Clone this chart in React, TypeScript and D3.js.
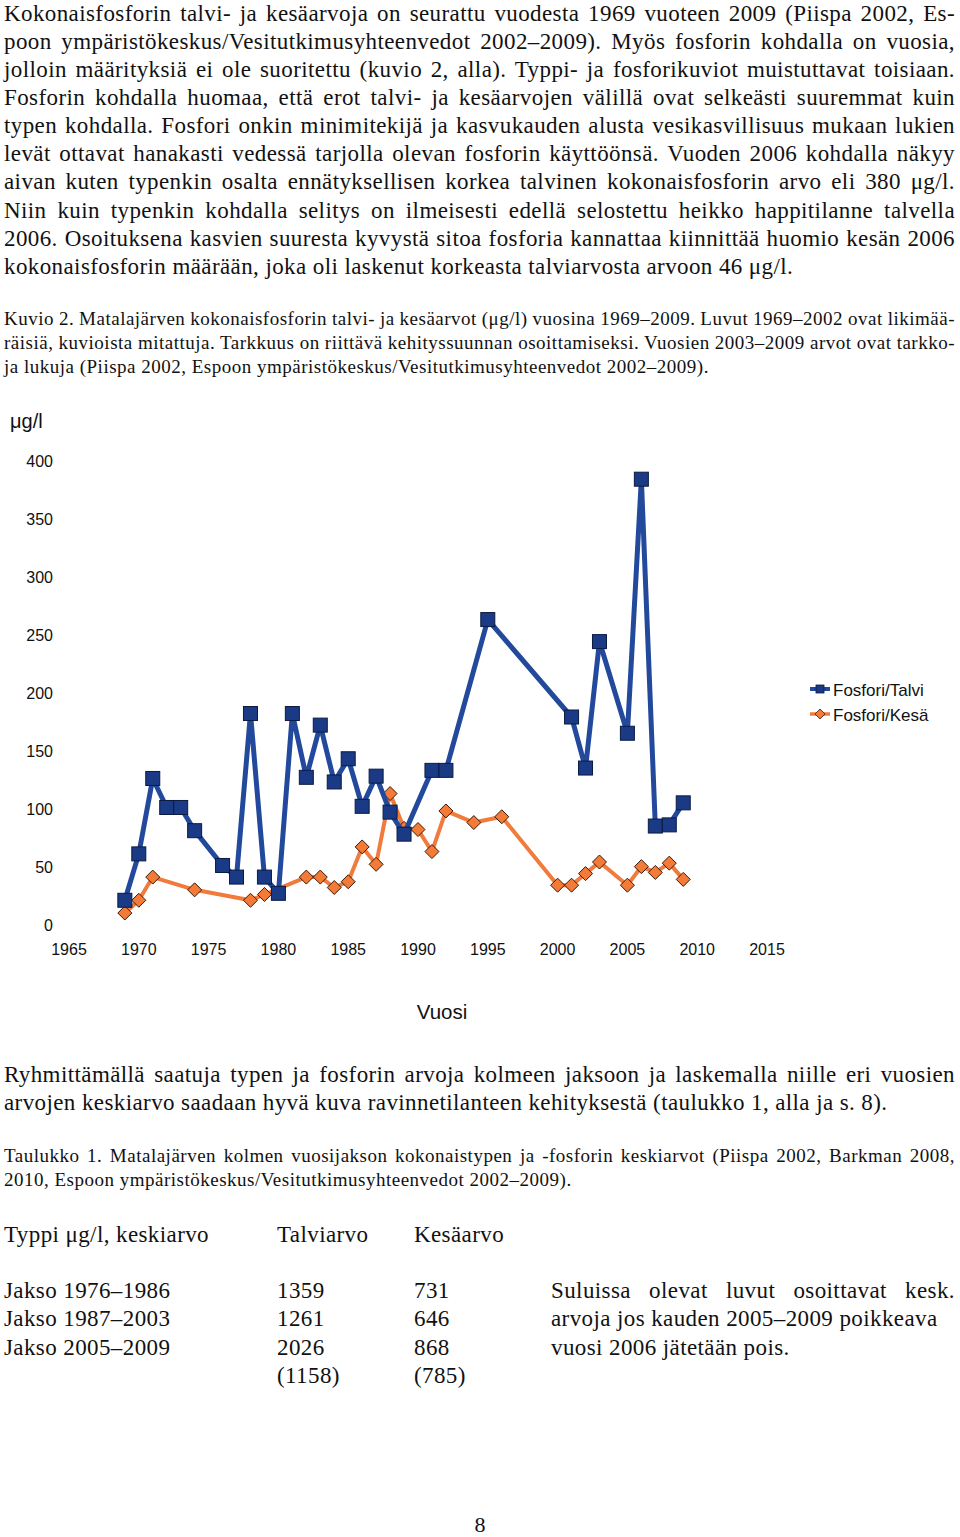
import React, { useEffect, useRef } from "react";
import * as d3 from "d3";

// ---------- Data ----------
const talviYears = [1969,1970,1971,1972,1973,1974,1976,1977,1978,1979,1980,1981,1982,1983,1984,1985,1986,1987,1988,1989,1991,1992,1995,2001,2002,2003,2005,2006,2007,2008,2009];
const talviValues = [17,57,122,97,97,77,47,37,178,37,23,178,123,168,119,139,98,124,93,74,129,129,259,175,131,240,161,380,81,82,101];

const kesaYears = [1969,1970,1971,1974,1978,1979,1982,1983,1984,1985,1986,1987,1988,1989,1990,1991,1992,1994,1996,2000,2001,2002,2003,2005,2006,2007,2008,2009];
const kesaValues = [6,17,37,26,17,22,37,37,28,33,63,48,109,79,78,59,94,84,89,30,30,40,50,30,46,41,49,35];

const yTicks = [0,50,100,150,200,250,300,350,400];
const xTicks = [1965,1970,1975,1980,1985,1990,1995,2000,2005,2010,2015];
const seriesNames = ["Fosfori/Talvi", "Fosfori/Kesä"];

const para1 = [
  "Kokonaisfosforin talvi- ja kesäarvoja on seurattu vuodesta 1969 vuoteen 2009 (Piispa 2002, Es-",
  "poon ympäristökeskus/Vesitutkimusyhteenvedot 2002–2009). Myös fosforin kohdalla on vuosia,",
  "jolloin määrityksiä ei ole suoritettu (kuvio 2, alla). Typpi- ja fosforikuviot muistuttavat toisiaan.",
  "Fosforin kohdalla huomaa, että erot talvi- ja kesäarvojen välillä ovat selkeästi suuremmat kuin",
  "typen kohdalla. Fosfori onkin minimitekijä ja kasvukauden alusta vesikasvillisuus mukaan lukien",
  "levät ottavat hanakasti vedessä tarjolla olevan fosforin käyttöönsä. Vuoden 2006 kohdalla näkyy",
  "aivan kuten typenkin osalta ennätyksellisen korkea talvinen kokonaisfosforin arvo eli 380 μg/l.",
  "Niin kuin typenkin kohdalla selitys on ilmeisesti edellä selostettu heikko happitilanne talvella",
  "2006. Osoituksena kasvien suuresta kyvystä sitoa fosforia kannattaa kiinnittää huomio kesän 2006",
  "kokonaisfosforin määrään, joka oli laskenut korkeasta talviarvosta arvoon 46 μg/l.",
];
const caption1 = [
  "Kuvio 2. Matalajärven kokonaisfosforin talvi- ja kesäarvot (μg/l) vuosina 1969–2009. Luvut 1969–2002 ovat likimää-",
  "räisiä, kuvioista mitattuja. Tarkkuus on riittävä kehityssuunnan osoittamiseksi. Vuosien 2003–2009 arvot ovat tarkko-",
  "ja lukuja (Piispa 2002, Espoon ympäristökeskus/Vesitutkimusyhteenvedot 2002–2009).",
];
const para2 = [
  "Ryhmittämällä saatuja typen ja fosforin arvoja kolmeen jaksoon ja laskemalla niille eri vuosien",
  "arvojen keskiarvo saadaan hyvä kuva ravinnetilanteen kehityksestä (taulukko 1, alla ja s. 8).",
];
const caption2 = [
  "Taulukko 1. Matalajärven kolmen vuosijakson kokonaistypen ja -fosforin keskiarvot (Piispa 2002, Barkman 2008,",
  "2010, Espoon ympäristökeskus/Vesitutkimusyhteenvedot 2002–2009).",
];
const tableHeader = ["Typpi μg/l, keskiarvo", "Talviarvo", "Kesäarvo"];
const tablePeriods = ["Jakso 1976–1986", "Jakso 1987–2003", "Jakso 2005–2009", ""];
const tableTalvi = ["1359", "1261", "2026", "(1158)"];
const tableKesa = ["731", "646", "868", "(785)"];
const tableNote = [
  "Suluissa olevat luvut osoittavat kesk.",
  "arvoja jos kauden 2005–2009 poikkeava",
  "vuosi 2006 jätetään pois.",
];

// ---------- Layout ----------
const W = 960, H = 1537;
const SERIF = "'Liberation Serif', 'Times New Roman', serif";
const SANS = "'Liberation Sans', Arial, sans-serif";
const BODY = 23, BODY_LS = 0.4;
const CAP = 19, CAP_LS = 0.5;
const BLUE_LINE = "#23499c";
const BLUE_MARK = "#1b3a86";
const ORANGE_LINE = "#f07b3c";
const ORANGE_MARK = "#f47a38";

export default function App() {
  const ref = useRef<SVGSVGElement>(null);

  const x = d3.scaleLinear().domain([1965, 2015]).range([69, 767]);
  const y = d3.scaleLinear().domain([0, 400]).range([920, 456]);

  const talvi = talviYears.map((yr, i) => [yr, talviValues[i]] as [number, number]);
  const kesa = kesaYears.map((yr, i) => [yr, kesaValues[i]] as [number, number]);
  const line = d3.line<[number, number]>().x(d => x(d[0])).y(d => y(d[1]));

  useEffect(() => {
    if (!ref.current) return;
    d3.select(ref.current).selectAll<SVGTextElement, unknown>("text.just").each(function () {
      const el = this;
      const target = +(el.getAttribute("data-w") || 0);
      el.style.wordSpacing = "0px";
      const w = el.getComputedTextLength();
      const n = (el.textContent || "").split(" ").length - 1;
      if (n > 0) el.style.wordSpacing = `${(target - w) / n}px`;
    });
  }, []);

  const textLines = (lines: string[], x0: number, y0: number, lh: number, size: number, ls: number, width: number) =>
    lines.map((s, i) => {
      const just = i < lines.length - 1;
      return (
        <text key={i} className={just ? "just" : undefined} data-w={width}
          x={x0} y={y0 + i * lh} fontFamily={SERIF} fontSize={size} letterSpacing={ls} fill="#111">
          {s}
        </text>
      );
    });

  const diamond = (cx: number, cy: number, r: number) =>
    `M${cx},${cy - r}L${cx + r},${cy}L${cx},${cy + r}L${cx - r},${cy}Z`;

  return (
    <svg ref={ref} width={W} height={H} viewBox={`0 0 ${W} ${H}`}
      style={{ position: "absolute", left: 0, top: 0, background: "#fff" }}>
      <rect x={0} y={0} width={W} height={H} fill="#fff" />
      {textLines(para1, 4, 20.8, 28.1, BODY, BODY_LS, 951)}
      {textLines(caption1, 4, 325, 23.8, CAP, CAP_LS, 951)}

      {/* Chart */}
      <g>
        <text x={10} y={428} fontFamily={SANS} fontSize={20} fill="#111">μg/l</text>
        {yTicks.map(v => (
          <text key={v} x={53} y={y(v) + 5} dy="0.35em" textAnchor="end" fontFamily={SANS} fontSize={16} fill="#111">{v}</text>
        ))}
        {xTicks.map(v => (
          <text key={v} x={x(v)} y={949} dy="0.35em" textAnchor="middle" fontFamily={SANS} fontSize={16} fill="#111">{v}</text>
        ))}
        <text x={442} y={1012} dy="0.35em" textAnchor="middle" fontFamily={SANS} fontSize={20.5} fill="#111">Vuosi</text>

        <path d={line(kesa) || ""} fill="none" stroke={ORANGE_LINE} strokeWidth={4} strokeLinejoin="round" />
        {kesa.map((d, i) => (
          <path key={i} d={diamond(x(d[0]), y(d[1]), 7)} fill={ORANGE_MARK} stroke="#3a1a08" strokeWidth={1} />
        ))}
        <path d={line(talvi) || ""} fill="none" stroke={BLUE_LINE} strokeWidth={5} strokeLinejoin="round" />
        {talvi.map((d, i) => (
          <rect key={i} x={x(d[0]) - 7} y={y(d[1]) - 7} width={14} height={14} fill={BLUE_MARK} stroke="#0b1a40" strokeWidth={1} />
        ))}

        {/* Legend */}
        <g>
          <line x1={810} x2={830} y1={689} y2={689} stroke={BLUE_LINE} strokeWidth={4} />
          <rect x={816} y={685} width={8} height={8} fill={BLUE_MARK} stroke="#0b1a40" strokeWidth={0.8} />
          <text x={833} y={690} dy="0.35em" fontFamily={SANS} fontSize={17} fill="#111">{seriesNames[0]}</text>
          <line x1={810} x2={830} y1={714} y2={714} stroke={ORANGE_LINE} strokeWidth={3.5} />
          <path d={diamond(820, 714, 5)} fill={ORANGE_MARK} stroke="#3a1a08" strokeWidth={0.8} />
          <text x={833} y={715} dy="0.35em" fontFamily={SANS} fontSize={17} fill="#111">{seriesNames[1]}</text>
        </g>
      </g>

      {textLines(para2, 4, 1082, 28.35, BODY, BODY_LS, 951)}
      {textLines(caption2, 4, 1162, 23.8, CAP, CAP_LS, 951)}

      {/* Table */}
      <g fontFamily={SERIF} fontSize={BODY} letterSpacing={BODY_LS} fill="#111">
        <text x={4} y={1242}>{tableHeader[0]}</text>
        <text x={277} y={1242}>{tableHeader[1]}</text>
        <text x={414} y={1242}>{tableHeader[2]}</text>
        {tablePeriods.map((p, i) => (
          <g key={i}>
            <text x={4} y={1298 + i * 28.4}>{p}</text>
            <text x={277} y={1298 + i * 28.4}>{tableTalvi[i]}</text>
            <text x={414} y={1298 + i * 28.4}>{tableKesa[i]}</text>
          </g>
        ))}
      </g>
      {tableNote.map((s, i) => (
        <text key={i} className={i === 0 ? "just" : undefined} data-w={404}
          x={551} y={1298 + i * 28.4} fontFamily={SERIF} fontSize={BODY} letterSpacing={BODY_LS} fill="#111">{s}</text>
      ))}

      <text x={480} y={1532} textAnchor="middle" fontFamily={SERIF} fontSize={22} fill="#111">8</text>
    </svg>
  );
}
